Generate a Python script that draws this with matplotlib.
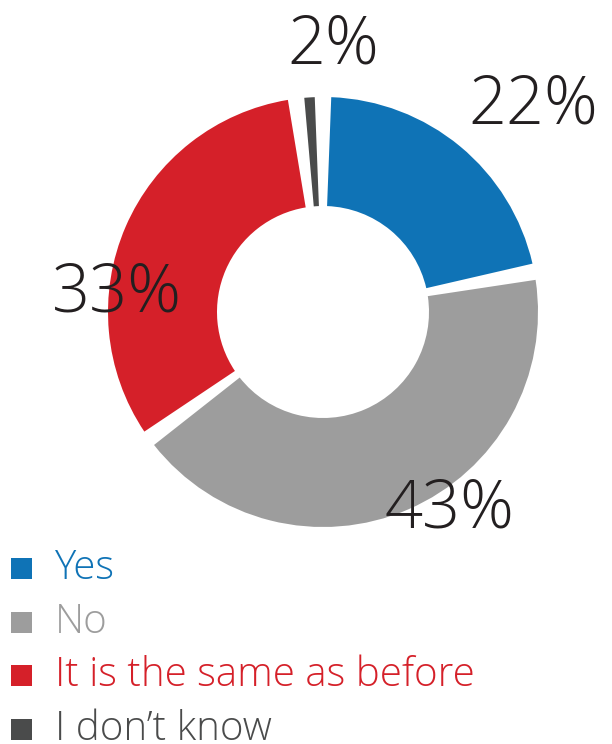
import matplotlib.pyplot as plt
from matplotlib.patches import Rectangle

# survey answers
categories = ["Yes", "No", "It is the same as before", "I don\u2019t know"]
shares = [22, 43, 33, 2]
colors = ["#0f73b6", "#9d9d9d", "#d52029", "#4a4b4b"]

W, H = 612, 744
text_color = "#231f20"
font = ["Open Sans", "DejaVu Sans"]

center = (323, H - 312)
outer_r = 215
ring_w = 109
gap_deg = 2.2  # angular trim on each side of a slice

# percentage label positions (x centre, baseline from top)
label_pos = [(533, 123), (450, 528), (117, 312), (333, 64)]

fig = plt.figure(figsize=(W / 100, H / 100), dpi=100)
ax = fig.add_axes([0, 0, 1, 1])

wedges, _ = ax.pie(shares, colors=colors, startangle=90, counterclock=False,
                   center=center, radius=outer_r,
                   wedgeprops=dict(width=ring_w, linewidth=0))
# open a small gap between the slices
for w in wedges:
    w.set_theta1(w.theta1 + gap_deg)
    w.set_theta2(w.theta2 - gap_deg)

ax.set_xlim(0, W)
ax.set_ylim(0, H)
ax.set_aspect("equal")
ax.axis("off")

for val, (x, y) in zip(shares, label_pos):
    ax.text(x, H - y, f"{val}%", ha="center", va="baseline",
            fontsize=48, color=text_color, family=font, fontweight="light")

# legend rows: square marker + coloured label
for i, (name, col) in enumerate(zip(categories, colors)):
    base = 579 + i * 53.7
    ax.add_patch(Rectangle((11, H - base), 21, 21, color=col, linewidth=0))
    ax.text(55, H - base, name, ha="left", va="baseline", fontsize=29,
            color=col, family=font, fontweight="light")

fig.savefig("out.png", dpi=100)
